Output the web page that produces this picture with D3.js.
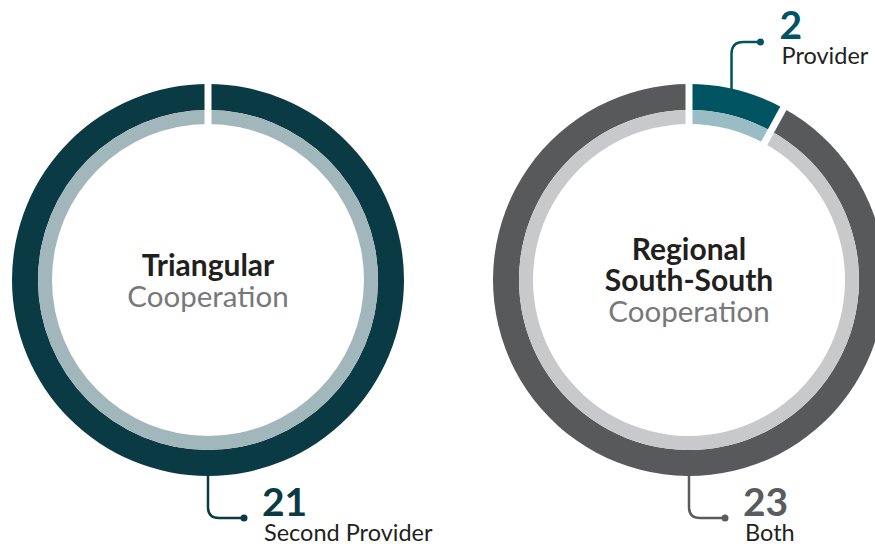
<!DOCTYPE html>
<html>
<head>
<meta charset="utf-8">
<script src="https://cdn.jsdelivr.net/npm/d3@7"></script>
<style>
  body { margin: 0; background: #fff; }
  text { font-family: Lato, "Open Sans", sans-serif; }
</style>
</head>
<body>
<div id="viz"></div>
<script>
// values
var triCategories = ["Second Provider"];
var triValues = [21];
var triTitle = ["Triangular"];

var regCategories = ["Provider", "Both"];
var regValues = [2, 23];
var regTitle = ["Regional", "South-South"];

var subTitle = "Cooperation";

var width = 875, height = 544;

var svg = d3.select("#viz").append("svg")
    .attr("width", width)
    .attr("height", height);

var outerR = 196, midR = 170, innerR = 156, gap = 7;

var arcOuter = d3.arc().innerRadius(midR).outerRadius(outerR);
var arcInner = d3.arc().innerRadius(innerR).outerRadius(midR);
var pie = d3.pie().sort(null);

function donut(cx, cy, cats, vals, darkCols, lightCols, title) {
    var g = svg.append("g").attr("transform", "translate(" + cx + "," + cy + ")");
    var arcs = pie(vals);

    g.selectAll("path.outer").data(arcs).enter().append("path")
        .attr("class", "outer")
        .attr("d", arcOuter)
        .attr("fill", function(d, i) { return darkCols[i] });
    g.selectAll("path.inner").data(arcs).enter().append("path")
        .attr("class", "inner")
        .attr("d", arcInner)
        .attr("fill", function(d, i) { return lightCols[i] });

    // white gap at the start of each slice
    g.selectAll("line.gap").data(arcs).enter().append("line")
        .attr("class", "gap")
        .attr("x1", function(d) { return Math.sin(d.startAngle) * (innerR - 4) })
        .attr("y1", function(d) { return -Math.cos(d.startAngle) * (innerR - 4) })
        .attr("x2", function(d) { return Math.sin(d.startAngle) * (outerR + 4) })
        .attr("y2", function(d) { return -Math.cos(d.startAngle) * (outerR + 4) })
        .attr("stroke", "#fff")
        .attr("stroke-width", gap);

    var lines = title.length + 1;
    var lh = 31;
    var y0 = -((lines - 1) * lh) / 2 + 11;
    title.forEach(function(t, i) {
        g.append("text")
            .attr("text-anchor", "middle")
            .attr("y", y0 + i * lh)
            .attr("font-size", 30)
            .attr("font-weight", 700)
            .attr("fill", "#231f20")
            .text(t);
    });
    g.append("text")
        .attr("text-anchor", "middle")
        .attr("y", y0 + title.length * lh)
        .attr("font-size", 29.5)
        .attr("fill", "#77787a")
        .text(subTitle);
    return g;
}

// leader from the ring at the bottom, bending right to a dot
function bottomLabel(cx, cy, value, label, col) {
    var y1 = cy + outerR, yb = 518, r = 11;
    svg.append("path")
        .attr("d", "M" + cx + "," + y1 + " L" + cx + "," + (yb - r) +
            " Q" + cx + "," + yb + " " + (cx + r) + "," + yb + " L" + (cx + 36) + "," + yb)
        .attr("fill", "none").attr("stroke", col).attr("stroke-width", 2.5);
    svg.append("circle").attr("cx", cx + 36).attr("cy", yb).attr("r", 3.5).attr("fill", col);
    svg.append("text").attr("x", cx + 54).attr("y", 516)
        .attr("font-size", 39).attr("font-weight", 700).attr("fill", col).text(value);
    svg.append("text").attr("x", cx + 56).attr("y", 541)
        .attr("font-size", 23.5).attr("fill", "#231f20").text(label);
}

function topLabel(cx, cy, ang, value, label, col) {
    var x = cx + Math.sin(ang) * outerR;
    var y1 = cy - Math.cos(ang) * outerR + 2;
    var yb = 42, r = 12;
    svg.append("path")
        .attr("d", "M" + x + "," + y1 + " L" + x + "," + (yb + r) +
            " Q" + x + "," + yb + " " + (x + r) + "," + yb + " L" + (x + 29) + "," + yb)
        .attr("fill", "none").attr("stroke", col).attr("stroke-width", 2.5);
    svg.append("circle").attr("cx", x + 29).attr("cy", yb).attr("r", 3.5).attr("fill", col);
    svg.append("text").attr("x", x + 48).attr("y", 39)
        .attr("font-size", 39).attr("font-weight", 700).attr("fill", col).text(value);
    svg.append("text").attr("x", x + 50).attr("y", 64)
        .attr("font-size", 23.5).attr("fill", "#231f20").text(label);
}

var leftC = [208, 280], rightC = [689, 280];

donut(leftC[0], leftC[1], triCategories, triValues, ["#0a3b44"], ["#a1b7bc"], triTitle);
donut(rightC[0], rightC[1], regCategories, regValues, ["#005360", "#58595b"], ["#99bcc5", "#c8c9ca"], regTitle);

bottomLabel(leftC[0], leftC[1], triValues[0], triCategories[0], "#0a3b44");
bottomLabel(rightC[0], rightC[1], regValues[1], regCategories[1], "#5a5b5d");

var provArc = pie(regValues)[0];
topLabel(rightC[0], rightC[1], (provArc.startAngle + provArc.endAngle) / 2 * 0.87, regValues[0], regCategories[0], "#005360");
</script>
</body>
</html>
